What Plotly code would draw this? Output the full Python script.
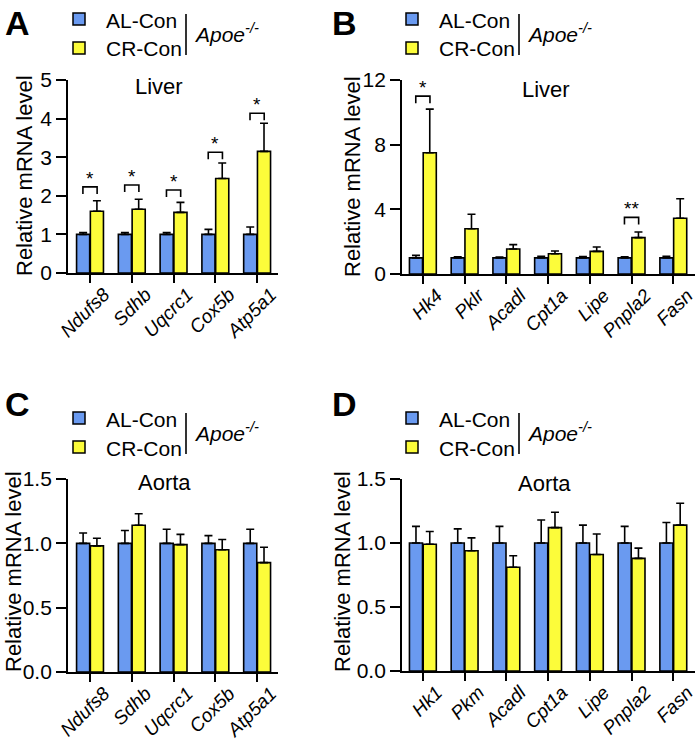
import plotly.graph_objects as go

# ---- data ----
mito_genes = ["Ndufs8", "Sdhb", "Uqcrc1", "Cox5b", "Atp5a1"]
liver_genes = ["Hk4", "Pklr", "Acadl", "Cpt1a", "Lipe", "Pnpla2", "Fasn"]
aorta_genes = ["Hk1", "Pkm", "Acadl", "Cpt1a", "Lipe", "Pnpla2", "Fasn"]

# A: liver, mitochondrial genes
a_al = [1.0, 1.0, 1.0, 1.0, 1.0]
a_al_sem = [0.05, 0.05, 0.05, 0.13, 0.19]
a_cr = [1.60, 1.65, 1.57, 2.45, 3.15]
a_cr_sem = [0.27, 0.26, 0.26, 0.40, 0.73]
a_sig = ["*", "*", "*", "*", "*"]
a_sig_y = [2.23, 2.28, 2.15, 3.13, 4.14]

# B: liver, metabolic genes
b_al = [1.0, 1.0, 1.0, 1.0, 1.0, 1.0, 1.0]
b_al_sem = [0.15, 0.07, 0.05, 0.10, 0.08, 0.07, 0.10]
b_cr = [7.5, 2.8, 1.55, 1.25, 1.40, 2.25, 3.45]
b_cr_sem = [2.7, 0.9, 0.27, 0.17, 0.27, 0.35, 1.2]
b_sig = ["*", "", "", "", "", "**", ""]
b_sig_y = [11.0, 0, 0, 0, 0, 3.5, 0]

# C: aorta, mitochondrial genes
c_al = [1.0, 1.0, 1.0, 1.0, 1.0]
c_al_sem = [0.08, 0.10, 0.11, 0.06, 0.11]
c_cr = [0.98, 1.14, 0.99, 0.95, 0.85]
c_cr_sem = [0.06, 0.09, 0.08, 0.08, 0.12]

# D: aorta, metabolic genes
d_al = [1.0, 1.0, 1.0, 1.0, 1.0, 1.0, 1.0]
d_al_sem = [0.13, 0.11, 0.13, 0.18, 0.14, 0.13, 0.16]
d_cr = [0.99, 0.94, 0.81, 1.12, 0.91, 0.88, 1.14]
d_cr_sem = [0.10, 0.10, 0.09, 0.12, 0.16, 0.08, 0.17]

W, H = 697, 742
BLUE = "#6a9af0"
YELLOW = "#fcfc3a"
FONT = "Liberation Sans, Arial, sans-serif"


def px(x):
    return x / W


def py(y):
    return 1 - y / H


# pixel positions of each panel
panels = [
    dict(letter="A", genes=mito_genes, al=a_al, al_sem=a_al_sem, cr=a_cr, cr_sem=a_cr_sem,
         sig=a_sig, sig_y=a_sig_y, xl=68, xr=278, y0=273, y1=80, xrange=[-0.527, 4.5],
         ymax=5, dtick=1, fmt="d", tissue="Liver", tpos=(159, 87), ytpos=(24, 176),
         dx=0, dy=0, lpos=(3, 2)),
    dict(letter="B", genes=liver_genes, al=b_al, al_sem=b_al_sem, cr=b_cr, cr_sem=b_cr_sem,
         sig=b_sig, sig_y=b_sig_y, xl=402, xr=695, y0=274, y1=80, xrange=[-0.5, 6.52],
         ymax=12, dtick=4, fmt="d", tissue="Liver", tpos=(546, 89), ytpos=(352, 177),
         dx=333, dy=0, lpos=(330, 2)),
    dict(letter="C", genes=mito_genes, al=c_al, al_sem=c_al_sem, cr=c_cr, cr_sem=c_cr_sem,
         sig=None, sig_y=None, xl=68, xr=278, y0=672, y1=479, xrange=[-0.527, 4.5],
         ymax=1.5, dtick=0.5, fmt=".1f", tissue="Aorta", tpos=(164, 482), ytpos=(13, 572),
         dx=0, dy=399, lpos=(3, 383)),
    dict(letter="D", genes=aorta_genes, al=d_al, al_sem=d_al_sem, cr=d_cr, cr_sem=d_cr_sem,
         sig=None, sig_y=None, xl=402, xr=695, y0=671, y1=479, xrange=[-0.5, 6.52],
         ymax=1.5, dtick=0.5, fmt=".1f", tissue="Aorta", tpos=(544, 483), ytpos=(342, 572),
         dx=333, dy=399, lpos=(330, 383)),
]

fig = go.Figure()
annotations = []
shapes = []

for k, p in enumerate(panels, start=1):
    xa = "x" if k == 1 else "x%d" % k
    ya = "y" if k == 1 else "y%d" % k
    idx = list(range(len(p["genes"])))
    for vals, sem, col in [(p["al"], p["al_sem"], BLUE), (p["cr"], p["cr_sem"], YELLOW)]:
        fig.add_trace(go.Bar(
            x=idx, y=vals, xaxis=xa, yaxis=ya, showlegend=False,
            marker=dict(color=col, line=dict(color="black", width=1.6)),
            error_y=dict(type="data", array=sem, arrayminus=[0] * len(sem), symmetric=False,
                         color="black", thickness=1.6, width=4),
        ))

    # significance brackets
    if p["sig"]:
        leg = 7 * p["ymax"] / (p["y0"] - p["y1"])
        for i, (s, h) in enumerate(zip(p["sig"], p["sig_y"])):
            if not s:
                continue
            fig.add_trace(go.Scatter(
                x=[i - 0.17, i - 0.17, i + 0.17, i + 0.17], y=[h - leg, h, h, h - leg],
                mode="lines", line=dict(color="black", width=1.6), xaxis=xa, yaxis=ya,
                showlegend=False, hoverinfo="skip"))
            annotations.append(dict(x=i, y=h, xref=xa, yref=ya, text=s, showarrow=False,
                                    yanchor="bottom", yshift=-4,
                                    font=dict(size=19, color="black", family=FONT)))

    axn = "" if k == 1 else str(k)
    fig.update_layout(**{
        "xaxis" + axn: dict(
            domain=[px(p["xl"]), px(p["xr"])], range=p["xrange"], anchor=ya,
            tickvals=idx, ticktext=["<i>%s</i>" % g for g in p["genes"]], tickangle=-45,
            ticklabelshift=14, ticklabelstandoff=-7, ticklabeloverflow="allow",
            showline=True, linecolor="black", linewidth=1.8, ticks="outside", ticklen=8,
            tickwidth=1.8, tickcolor="black", showgrid=False, zeroline=False, automargin=False,
            tickfont=dict(size=19, color="black", family=FONT)),
        "yaxis" + axn: dict(
            domain=[py(p["y0"]), py(p["y1"])], range=[0, p["ymax"]], anchor=xa,
            dtick=p["dtick"], tickformat=p["fmt"], showline=True, linecolor="black",
            linewidth=1.8, ticks="outside", ticklen=10, tickwidth=1.8, tickcolor="black",
            showgrid=False, zeroline=False, automargin=False,
            tickfont=dict(size=21, color="black", family=FONT)),
    })

    # panel letter, tissue title, y title
    annotations.append(dict(x=px(p["lpos"][0]), y=py(p["lpos"][1]), xref="paper", yref="paper",
                            text="<b>%s</b>" % p["letter"], showarrow=False, xanchor="left",
                            yanchor="top", font=dict(size=34, color="black", family=FONT)))
    annotations.append(dict(x=px(p["tpos"][0]), y=py(p["tpos"][1]), xref="paper", yref="paper",
                            text=p["tissue"], showarrow=False, xanchor="center", yanchor="middle",
                            font=dict(size=22, color="black", family=FONT)))
    annotations.append(dict(x=px(p["ytpos"][0]), y=py(p["ytpos"][1]), xref="paper", yref="paper",
                            text="Relative mRNA level", textangle=-90, showarrow=False,
                            xanchor="center", yanchor="middle",
                            font=dict(size=22, color="black", family=FONT)))

    # legend block
    dx, dy = p["dx"], p["dy"]
    for (cy, col, lab) in [(19, BLUE, "AL-Con"), (48, YELLOW, "CR-Con")]:
        shapes.append(dict(type="rect", xref="paper", yref="paper",
                           x0=px(73 + dx), x1=px(85 + dx), y0=py(cy + 6 + dy), y1=py(cy - 6 + dy),
                           fillcolor=col, line=dict(color="black", width=1.5)))
        annotations.append(dict(x=px(104 + dx), y=py(cy + 1 + dy), xref="paper", yref="paper",
                                text=lab, showarrow=False, xanchor="left", yanchor="middle",
                                font=dict(size=21, color="black", family=FONT)))
    shapes.append(dict(type="line", xref="paper", yref="paper", x0=px(186 + dx), x1=px(186 + dx),
                       y0=py(14 + dy), y1=py(55 + dy), line=dict(color="black", width=1.6)))
    annotations.append(dict(x=px(192 + dx), y=py(33 + dy), xref="paper", yref="paper",
                            text="<i>Apoe<sup>-/-</sup></i>", showarrow=False, xanchor="left",
                            yanchor="middle", font=dict(size=21, color="black", family=FONT)))

fig.update_layout(
    width=W, height=H, margin=dict(l=0, r=0, t=0, b=0),
    paper_bgcolor="white", plot_bgcolor="white",
    barmode="group", bargap=0.34, bargroupgap=0.05,
    annotations=annotations, shapes=shapes,
    font=dict(family=FONT, color="black"),
)

# drop the browser's default 8px body margin so the figure sits at the window corner
fig.write_html("out.html", config={"displayModeBar": False},
               post_script="document.body.style.margin='0';")
